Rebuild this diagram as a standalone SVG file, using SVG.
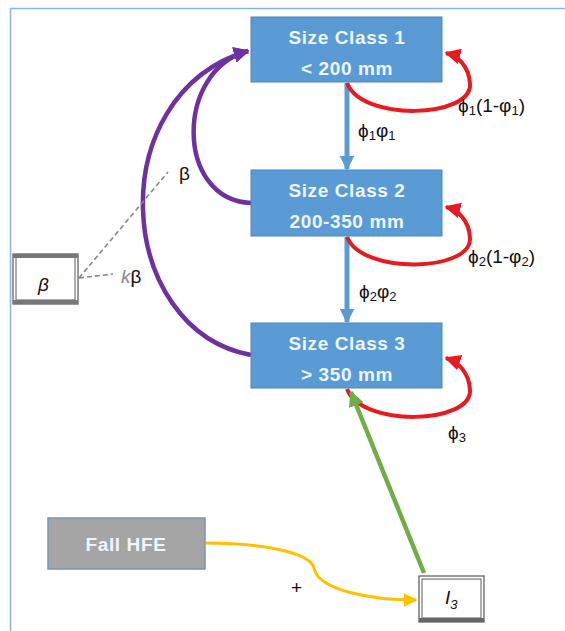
<svg xmlns="http://www.w3.org/2000/svg" width="565" height="631" viewBox="0 0 565 631">
<style>
.box{fill:#5b9bd5;stroke:#4a86c0;stroke-width:1}
.bt{font-family:"Liberation Sans",Arial,sans-serif;font-weight:bold;font-size:19px;letter-spacing:0.6px;fill:#eef5fc;text-anchor:middle}
.lbl{font-family:"Liberation Sans",Arial,sans-serif;font-size:19px;fill:#111}
.sub{font-size:13px}
.blue{stroke:#5b9bd5;stroke-width:5;fill:none}
.red{stroke:#e8191f;stroke-width:4;fill:none}
.purple{stroke:#7030a0;stroke-width:4.5;fill:none}
.dash{stroke:#888;stroke-width:1.6;stroke-dasharray:5,3;fill:none}
</style>
<defs>
<marker id="mBlue" viewBox="0 0 10 10" refX="9" refY="5" markerWidth="3" markerHeight="3" orient="auto" markerUnits="strokeWidth"><path d="M0,0 L10,5 L0,10 z" fill="#5b9bd5"/></marker>
<marker id="mRed" viewBox="0 0 10 10" refX="9" refY="5" markerWidth="4" markerHeight="4" orient="auto" markerUnits="strokeWidth"><path d="M0,0 L10,5 L0,10 z" fill="#e8191f"/></marker>
<marker id="mPur" viewBox="0 0 10 10" refX="9" refY="5" markerWidth="3.5" markerHeight="3.5" orient="auto" markerUnits="strokeWidth"><path d="M0,0 L10,5 L0,10 z" fill="#7030a0"/></marker>
<marker id="mYel" viewBox="0 0 10 10" refX="9" refY="5" markerWidth="4.5" markerHeight="4.5" orient="auto" markerUnits="strokeWidth"><path d="M0,0 L10,5 L0,10 z" fill="#ffc000"/></marker>
<marker id="mGrn" viewBox="0 0 10 10" refX="9" refY="5" markerWidth="3.5" markerHeight="3.5" orient="auto" markerUnits="strokeWidth"><path d="M0,0 L10,5 L0,10 z" fill="#70ad47"/></marker>
</defs>
<rect width="565" height="631" fill="#fff"/>
<path d="M10.5,631 V8.5 H565" fill="none" stroke="#8db4e2" stroke-width="1.5"/>

<g id="connectors">
<line class="blue" x1="347" y1="83" x2="347" y2="169" marker-end="url(#mBlue)"/>
<line class="blue" x1="347" y1="237" x2="347" y2="322" marker-end="url(#mBlue)"/>
<path class="red" d="M347,83 C362,122 472,118 470,84 C469,66 458,56 446,53" marker-end="url(#mRed)"/>
<path class="red" d="M347,237 C362,275 472,272 470,238 C469,220 458,210 446,207" marker-end="url(#mRed)"/>
<path class="red" d="M347,389 C362,428 472,424 470,390 C469,372 458,362 446,358" marker-end="url(#mRed)"/>
<path class="purple" d="M251,203 C175,200 175,70 248,51" marker-end="url(#mPur)"/>
<path class="purple" d="M251,355 C115,330 100,95 248,51" marker-end="url(#mPur)"/>
<path class="dash" d="M79,278 L168,172"/>
<path class="dash" d="M79,278 L113,274"/>
<path d="M424,573 L351,392" stroke="#70ad47" stroke-width="4.5" fill="none" marker-end="url(#mGrn)"/>
<path d="M206,543 C260,543 310,552 314,568 C318,590 370,600 416,600" stroke="#ffc000" stroke-width="3" fill="none" marker-end="url(#mYel)"/>
</g>

<g id="sc1"><rect class="box" x="251" y="17" width="191" height="65"/>
<text class="bt" x="347" y="44">Size Class 1</text><text class="bt" x="347" y="75">&lt; 200 mm</text></g>
<g id="sc2"><rect class="box" x="251" y="170" width="191" height="66"/>
<text class="bt" x="347" y="197">Size Class 2</text><text class="bt" x="347" y="228">200-350 mm</text></g>
<g id="sc3"><rect class="box" x="251" y="323" width="191" height="65"/>
<text class="bt" x="347" y="350">Size Class 3</text><text class="bt" x="347" y="381">&gt; 350 mm</text></g>

<g id="fallhfe"><rect x="48" y="518" width="157" height="51" fill="#a5a5a5" stroke="#7f93ad" stroke-width="1.5"/>
<text class="bt" x="126" y="551" fill="#f4f4f4">Fall HFE</text></g>

<g id="I3"><rect x="419" y="576" width="65" height="46" fill="#fff" stroke="#555" stroke-width="1.2"/>
<rect x="422" y="579" width="59" height="39" fill="none" stroke="#777" stroke-width="1.2"/>
<rect x="419" y="618" width="65" height="4" fill="#666"/>
<text class="lbl" x="445" y="604" font-style="italic">I<tspan class="sub" dy="5">3</tspan></text></g>

<g id="beta"><rect x="13" y="254" width="65" height="50" fill="#fff" stroke="#555" stroke-width="1.2"/>
<rect x="16" y="257" width="59" height="43" fill="none" stroke="#777" stroke-width="1.2"/>
<rect x="13" y="254" width="65" height="4" fill="#777"/>
<rect x="13" y="300" width="65" height="4" fill="#777"/>
<text class="lbl" x="38" y="291" font-style="italic">β</text></g>

<g id="labels">
<text class="lbl" x="358" y="137">ϕ<tspan class="sub" dy="3">1</tspan><tspan dy="-3">φ</tspan><tspan class="sub" dy="3">1</tspan></text>
<text class="lbl" x="458" y="112">ϕ<tspan class="sub" dy="3">1</tspan><tspan dy="-3">(1-φ</tspan><tspan class="sub" dy="3">1</tspan><tspan dy="-3">)</tspan></text>
<text class="lbl" x="359" y="298">ϕ<tspan class="sub" dy="3">2</tspan><tspan dy="-3">φ</tspan><tspan class="sub" dy="3">2</tspan></text>
<text class="lbl" x="468" y="263">ϕ<tspan class="sub" dy="3">2</tspan><tspan dy="-3">(1-φ</tspan><tspan class="sub" dy="3">2</tspan><tspan dy="-3">)</tspan></text>
<text class="lbl" x="448" y="439">ϕ<tspan class="sub" dy="3">3</tspan></text>
<text class="lbl" x="179" y="180">β</text>
<text class="lbl" x="121" y="283"><tspan font-style="italic" fill="#888">k</tspan>β</text>
<text class="lbl" x="291" y="594">+</text>
</g>
</svg>
